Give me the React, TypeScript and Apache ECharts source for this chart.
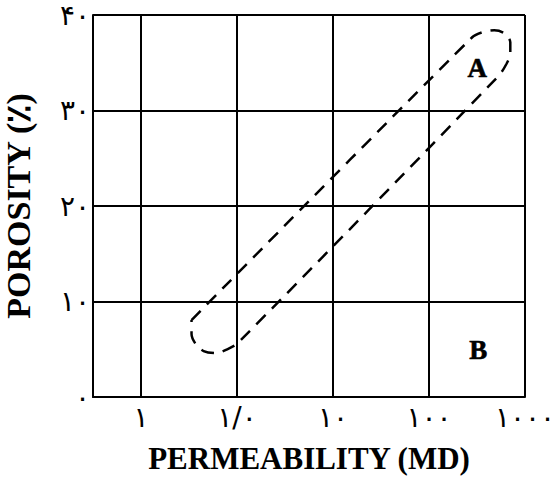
import React, { useEffect, useRef } from "react";
import * as echarts from "echarts";

// Axis ticks and labels (as printed in the figure)
const xTickValues = [0.1, 1, 10, 100, 1000];
const xTickLabels = ["۱", "۱/۰", "۱۰", "۱۰۰", "۱۰۰۰"];
const yTickValues = [0, 10, 20, 30, 40];
const yTickLabels = ["۰", "۱۰", "۲۰", "۳۰", "۴۰"];

// Dashed envelope (closed loop), permeability (md) and porosity (%)
const envelopePermeability = [
  0.336, 282, 358, 478, 608, 703, 703, 638, 526, 1.02, 0.8, 0.6, 0.449, 0.371, 0.336, 0.336,
];
const envelopePorosity = [
  8.06, 37.67, 38.19, 38.4, 38.09, 37.14, 35.99, 34.84, 33.58, 5.65, 5.02, 4.6, 4.81, 5.55, 6.59, 8.06,
];

// Zone labels
const zoneNames = ["A", "B"];
const zonePermeability = [318, 326];
const zonePorosity = [34.5, 4.9];

const xName = "PERMEABILITY (MD)";
const yName = "POROSITY (٪)";

export default function App() {
  const ref = useRef<HTMLDivElement>(null);
  useEffect(() => {
    if (!ref.current) return;
    const chart = echarts.init(ref.current, undefined, { renderer: "svg" });
    const envelope = envelopePermeability.map((x, i) => [x, envelopePorosity[i]]);
    const zones = zoneNames.map((n, i) => ({ name: n, value: [zonePermeability[i], zonePorosity[i]] }));
    const lineCol = "#000";
    chart.setOption({
      animation: false,
      backgroundColor: "#fff",
      grid: {
        left: 93,
        right: 34,
        top: 15,
        bottom: 82,
        containLabel: false,
        outerBoundsMode: "none",
      },
      xAxis: {
        type: "log",
        logBase: 10,
        min: Math.pow(10, -1.5),
        max: 1000,
        name: xName,
        nameLocation: "middle",
        nameGap: 46,
        nameTextStyle: {
          fontFamily: "Liberation Serif",
          fontWeight: "bold",
          fontSize: 31,
          color: "#000",
        },
        axisLine: { show: true, lineStyle: { color: lineCol, width: 2 } },
        axisTick: { show: false },
        splitLine: { show: true, lineStyle: { color: lineCol, width: 2 } },
        axisLabel: {
          margin: 10,
          color: "#000",
          fontFamily: "DejaVu Sans",
          fontSize: 28,
          lineHeight: 20,
          showMinLabel: false,
          formatter: (v: number) => {
            const lv = Math.log10(v);
            for (let i = 0; i < xTickValues.length; i++) {
              if (Math.abs(Math.log10(xTickValues[i]) - lv) < 1e-6) return xTickLabels[i];
            }
            return "";
          },
        },
      },
      yAxis: {
        type: "value",
        min: 0,
        max: 40,
        interval: 10,
        name: yName,
        nameLocation: "middle",
        nameGap: 58,
        nameTextStyle: {
          fontFamily: "Liberation Serif",
          fontWeight: "bold",
          fontSize: 34,
          color: "#000",
        },
        axisLine: { show: true, lineStyle: { color: lineCol, width: 2 } },
        axisTick: { show: false },
        splitLine: { show: true, lineStyle: { color: lineCol, width: 2 } },
        axisLabel: {
          margin: 3,
          color: "#000",
          fontFamily: "DejaVu Sans",
          fontSize: 28,
          lineHeight: 20,
          formatter: (v: number) => {
            const i = yTickValues.indexOf(v);
            return i >= 0 ? yTickLabels[i] : "";
          },
        },
      },
      series: [
        {
          type: "line",
          data: envelope,
          smooth: 0.3,
          showSymbol: false,
          symbol: "none",
          lineStyle: { color: "#000", width: 2.5, type: [13, 9] },
          z: 3,
        },
        {
          type: "scatter",
          data: zones,
          symbolSize: 0,
          itemStyle: { opacity: 1 },
          label: {
            show: true,
            position: "inside",
            formatter: "{b}",
            fontFamily: "Liberation Serif",
            fontWeight: "bold",
            fontSize: 27,
            color: "#000",
            opacity: 1,
            textBorderColor: "#000",
            textBorderWidth: 0.6,
          },
          z: 4,
        },
      ],
    });
    return () => chart.dispose();
  }, []);
  return (
    <div
      ref={ref}
      style={{ position: "fixed", left: 0, top: 0, width: 559, height: 479, background: "#fff" }}
    />
  );
}
